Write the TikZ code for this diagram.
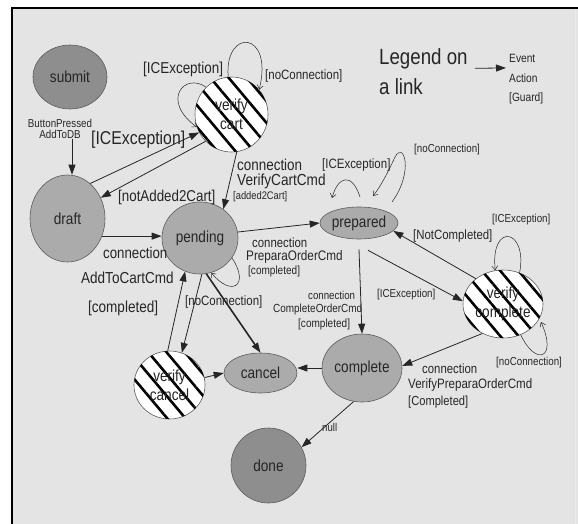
\documentclass[tikz,border=0pt]{standalone}
\usepackage{fontspec}
\setmainfont{Liberation Sans}[FakeStretch=0.85]
\usepackage{tikz}
\usetikzlibrary{shapes.geometric, arrows.meta, patterns.meta}

\definecolor{bggray}{HTML}{E4E4E4}
\definecolor{statefill}{HTML}{ABABAB}
\definecolor{enddark}{HTML}{8E8E8E}
\definecolor{inkgray}{HTML}{262626}

\newcommand{\lblsize}[1]{\fontsize{#1}{#1}\selectfont}

\tikzset{
  state/.style={ellipse, draw=inkgray!75, line width=0.6pt, fill=statefill, inner sep=0pt,
    text=inkgray, font=\lblsize{16}},
  darkstate/.style={state, fill=enddark},
  checkstate/.style={state, fill=white, align=center, font=\fontsize{16}{19}\selectfont,
    postaction={pattern={Lines[angle=-50,distance=14pt,line width=2.6pt]}, pattern color=black}},
  link/.style={draw=inkgray, line width=0.8pt, -{Triangle[length=10pt,width=7pt]}},
  selfloop/.style={draw=inkgray, line width=0.5pt, -{Straight Barb[length=4pt,width=6pt]}},
  guard/.style={inner sep=0pt, text=inkgray, anchor=base west},
}

\begin{document}
\begin{tikzpicture}[x=1pt, y=-1pt]
    \useasboundingbox (0,0) rectangle (578,524);
    % frame
    \fill[white] (0,0) rectangle (578,524);
    \fill[bggray] (12,8) rectangle (578,524);
    \draw[gray!15] (575,8) -- (575,524);
    \draw[line width=1.3pt] (12,524) -- (12,8) -- (578,8);

    % states
    \node[darkstate, minimum width=74pt, minimum height=64pt] (submit) at (70,77) {submit};
    \node[checkstate, minimum width=73pt, minimum height=75pt] (verifycart) at (231.5,114.5) {verify\\cart};
    \node[state, minimum width=75pt, minimum height=87pt] (draft) at (67.5,218.5) {draft};
    \node[state, minimum width=76pt, minimum height=72pt] (pending) at (200,238) {pending};
    \node[state, minimum width=78pt, minimum height=32pt] (prepared) at (359,223) {prepared};
    \node[checkstate, minimum width=80pt, minimum height=68pt] (verifycomplete) at (503,304) {verify\\complete};
    \node[state, minimum width=80pt, minimum height=68pt] (complete) at (362,368) {complete};
    \node[state, minimum width=73pt, minimum height=40pt] (cancel) at (260.5,373) {cancel};
    \node[checkstate, minimum width=71pt, minimum height=68pt] (verifycancel) at (169.5,385) {verify\\cancel};
    \node[darkstate, minimum width=75pt, minimum height=75pt] (done) at (268.5,465.5) {done};

    % transitions
    \node[guard, anchor=north, align=center, font=\lblsize{11.5}] (pressed) at (60,118.5)
        {\baselineskip=16pt ButtonPressed\\AddToDB};
    \draw[link] ([xshift=12pt]pressed.south) -- ([xshift=12pt]pressed.south |- draft.north);
    \draw[link] (draft.57) -- (verifycart.209);
    \draw[link] (verifycart.226) -- (draft.32);
    \draw[link] (verifycart.278) -- (pending.51);
    \draw[link] (draft.-27) -- (draft.-27 -| pending.west);
    \draw[link] (pending.9) -- (prepared.west);
    \draw[link] (pending.-87) -- (verifycancel.69);
    \draw[link] (verifycancel.93) -- (pending.-114);
    \draw[link, line width=1.6pt] (pending.-80) -- (cancel.north);
    \draw[link] (verifycancel.12) -- (cancel.west);
    \draw[link] (complete.west) -- (complete.west -| cancel.east);
    \draw[link] ([yshift=-10pt]prepared.south) -- (complete.north);
    \draw[link] ([xshift=9pt,yshift=-11pt]prepared.south) -- (verifycomplete.176);
    \draw[link] (verifycomplete.137) -- (prepared.-13);
    \draw[link] (verifycomplete.235) -- (complete.3);
    \draw[link] (complete.256) -- (done.29);

    % hand drawn self loops
    \draw[selfloop] (verifycart.133) .. controls (185,72) and (160,100) .. (verifycart.200);
    \draw[selfloop] (verifycart.95) .. controls (224,28) and (274,30) .. (verifycart.42);
    \draw[selfloop] (pending.-32) .. controls (250,285) and (232,298) .. (pending.-72);
    \draw[selfloop] (360,197) .. controls (352,172) and (338,176) .. (332,198);
    \draw[selfloop] (392,202) .. controls (414,172) and (404,140) .. (395,157)
        .. controls (388,172) and (381,186) .. (373,196);
    \draw[selfloop] (verifycomplete.62) .. controls (528,228) and (490,222) .. (verifycomplete.103);
    \draw[selfloop] (verifycomplete.-60) .. controls (535,366) and (558,360) .. (541,322);

    % guards and actions
    \node[guard, font=\lblsize{18.6}] (icexbig) at (91,144) {[ICException]};
    \node[guard, font=\lblsize{15.8}] (icextop) at (143,74) {[ICException]};
    \node[guard, font=\lblsize{13.5}] (noconntop) at (265,80) {[noConnection]};
    \node[guard, font=\lblsize{15.7}] (notadded) at (118,201) {[notAdded2Cart]};
    \node[guard, font=\lblsize{15.8}] (conncart) at (237,170) {connection};
    \node[guard, font=\lblsize{16}] (cmdcart) at (237,185) {VerifyCartCmd};
    \node[guard, font=\lblsize{11}] (added) at (233,199) {[added2Cart]};
    \node[guard, font=\lblsize{13.5}] (icexprep) at (322,168) {[ICException]};
    \node[guard, font=\lblsize{11.5}] (noconnprep) at (414,153) {[noConnection]};
    \node[guard, font=\lblsize{13.4}] (notcompleted) at (413,239) {[NotCompleted]};
    \node[guard, font=\lblsize{11.5}] (icexver) at (492,222) {[ICException]};
    \node[guard, font=\lblsize{11.5}] (icexmid) at (377,297) {[ICException]};
    \node[guard, font=\lblsize{11.4}] (conncomplete) at (308,299) {connection};
    \node[guard, font=\lblsize{11.7}] (cmdcomplete) at (273,312) {CompleteOrderCmd};
    \node[guard, font=\lblsize{11.8}] (donecomplete) at (298,327) {[completed]};
    \node[guard, font=\lblsize{13.4}] (connprep) at (252,247) {connection};
    \node[guard, font=\lblsize{13.8}] (cmdprep) at (246,260) {PreparaOrderCmd};
    \node[guard, font=\lblsize{11.8}] (doneprep) at (248,274) {[completed]};
    \node[guard, font=\lblsize{15.6}] (connadd) at (103,258) {connection};
    \node[guard, font=\lblsize{15.9}] (cmdadd) at (81,283) {AddToCartCmd};
    \node[guard, font=\lblsize{15.9}] (doneadd) at (88,312) {[completed]};
    \node[guard, font=\lblsize{13.5}] (noconnpend) at (185,305) {[noConnection]};
    \node[guard, font=\lblsize{13.4}] (connverify) at (422,373) {connection};
    \node[guard, font=\lblsize{13.6}] (cmdverify) at (408,388) {VerifyPreparaOrderCmd};
    \node[guard, font=\lblsize{13.1}] (doneverify) at (408,405) {[Completed]};
    \node[guard, font=\lblsize{11.5}] (noconnver) at (496,365) {[noConnection]};
    \node[guard, font=\lblsize{11.3}] (nulllbl) at (322,431) {null};

    % legend
    \node[guard, font=\lblsize{22}] (legendon) at (379,65) {Legend on};
    \node[guard, font=\lblsize{22}] (alink) at (379,95) {a link};
    \foreach \word/\yy/\nm in {Event/63/evt, Action/83/act, {[Guard]}/102/grd}
        \node[guard, font=\lblsize{12}] (\nm) at (509,\yy) {\word};
    \draw[link] ([xshift=7pt,yshift=-9pt]legendon.east) -- ([xshift=-3pt,yshift=-9pt]evt.west);
\end{tikzpicture}
\end{document}
